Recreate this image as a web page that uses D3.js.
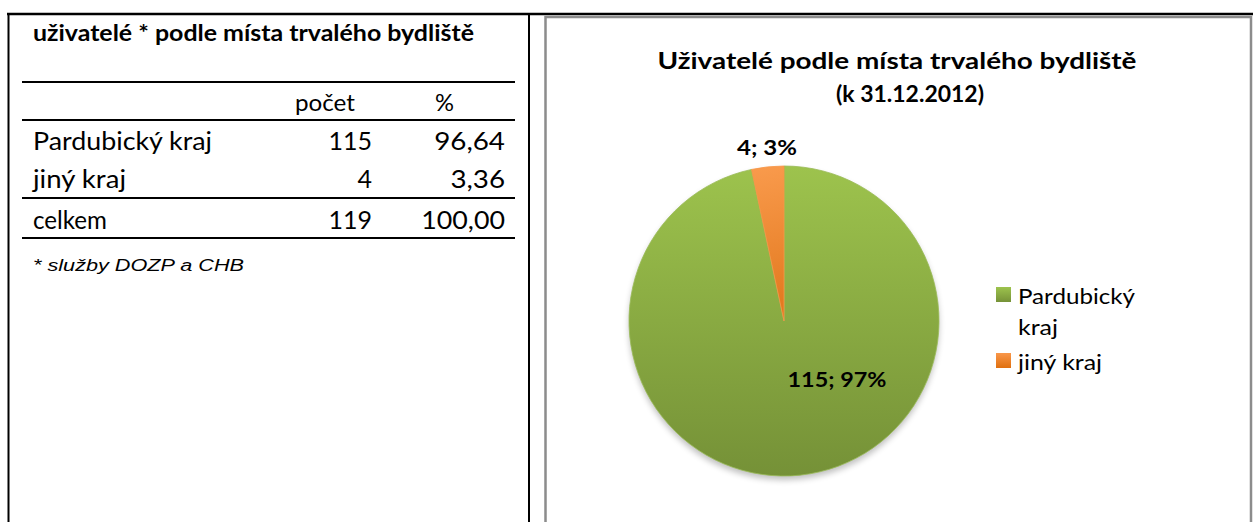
<!DOCTYPE html>
<html><head><meta charset="utf-8">
<script src="https://cdn.jsdelivr.net/npm/d3@7"></script>
<style>body{margin:0;background:#fff;}svg{display:block;}</style>
</head><body>
<svg id="c" width="1253" height="522"></svg>
<script>
const categories = ["Pardubický kraj", "jiný kraj"];
const counts = [115, 4];
const totalLabel = "celkem";
const tableTitle = "uživatelé * podle místa trvalého bydliště";
const tableHeaders = ["počet", "%"];
const footnote = "* služby DOZP a CHB";
const chartTitle = ["Uživatelé podle místa trvalého bydliště", "(k 31.12.2012)"];
const legendLines = [["Pardubický", "kraj"], ["jiný kraj"]];

const total = d3.sum(counts);
const fmtPct = v => d3.format(".2f")(v).replace(".", ",");
const svg = d3.select("#c");
const F = "Lato, 'Open Sans', sans-serif";

function txt(x, y, s, o = {}) {
  const t = svg.append("text").attr("x", x).attr("y", y).text(s)
    .attr("font-family", o.family || F)
    .attr("font-size", o.size || 22)
    .attr("font-weight", o.weight || "normal")
    .attr("font-style", o.style || "normal")
    .attr("fill", o.fill || "#000")
    .attr("text-anchor", o.anchor || "start");
  if (o.w) t.attr("textLength", o.w).attr("lengthAdjust", "spacingAndGlyphs");
  return t;
}
function hline(x1, x2, y, w, c) {
  svg.append("line").attr("x1", x1).attr("x2", x2).attr("y1", y).attr("y2", y)
    .attr("stroke", c || "#000").attr("stroke-width", w);
}
function vline(x, y1, y2, w, c) {
  svg.append("line").attr("x1", x).attr("x2", x).attr("y1", y1).attr("y2", y2)
    .attr("stroke", c || "#000").attr("stroke-width", w);
}
const cw = {"1": 13.7, ",": 6.5, ".": 6.5};
function numW(s) { return d3.sum(s.split(""), ch => cw[ch] || 17); }
const labelW = {"Pardubický kraj": 179, "jiný kraj": 93, "celkem": 74};

// frame
hline(7, 1253, 14, 2.5);
vline(8.5, 13, 522, 2);
vline(529, 13, 522, 2);
svg.append("path").attr("d", "M545.5,522 V17 H1251 V522")
  .attr("fill", "none").attr("stroke", "#8c8c8c").attr("stroke-width", 2.5);

// ---- table ----
txt(33, 41, tableTitle, {weight: "bold", size: 22, w: 441});
hline(22, 515, 82, 2);
txt(295, 111, tableHeaders[0], {size: 23, w: 60});
txt(435, 111, tableHeaders[1], {size: 23, w: 19});
hline(22, 515, 120, 2);
const rowY = [150, 188];
categories.forEach((c, i) => {
  txt(33, rowY[i], c, {size: 25, w: labelW[c]});
  const n = String(counts[i]), p = fmtPct(counts[i] / total * 100);
  txt(372, rowY[i], n, {size: 25, anchor: "end"});
  txt(505, rowY[i], p, {size: 25, anchor: "end", w: numW(p) * 0.95});
});
hline(22, 515, 198, 2);
txt(33, 229, totalLabel, {size: 25, w: labelW[totalLabel]});
txt(372, 229, String(total), {size: 25, anchor: "end"});
txt(505, 229, fmtPct(100), {size: 25, anchor: "end", w: numW(fmtPct(100)) * 0.95});
hline(22, 515, 238, 2);
txt(33, 271, footnote, {size: 16, style: "italic", family: "'Liberation Sans', Arial, sans-serif", w: 211});

// ---- chart ----
txt(897, 69, chartTitle[0], {weight: "bold", size: 23, anchor: "middle", w: 479});
txt(910, 102, chartTitle[1], {weight: "bold", size: 23, anchor: "middle", w: 148});

const defs = svg.append("defs");
const grads = [["gG", "#9dc34d", "#769238"], ["gO", "#f9974a", "#e0700f"]];
grads.forEach(([id, a, b]) => {
  const g = defs.append("linearGradient").attr("id", id).attr("x1", 0).attr("y1", 0).attr("x2", 0).attr("y2", 1);
  g.append("stop").attr("offset", "0%").attr("stop-color", a);
  g.append("stop").attr("offset", "100%").attr("stop-color", b);
});
const pieGrad = defs.append("linearGradient").attr("id", "pg").attr("gradientUnits", "userSpaceOnUse")
  .attr("x1", 0).attr("y1", -155).attr("x2", 0).attr("y2", 155);
pieGrad.append("stop").attr("offset", "0%").attr("stop-color", "#9dc34d");
pieGrad.append("stop").attr("offset", "100%").attr("stop-color", "#759137");
const orGrad = defs.append("linearGradient").attr("id", "og").attr("gradientUnits", "userSpaceOnUse")
  .attr("x1", -20).attr("y1", -155).attr("x2", 10).attr("y2", 0);
orGrad.append("stop").attr("offset", "0%").attr("stop-color", "#f99a4c");
orGrad.append("stop").attr("offset", "100%").attr("stop-color", "#e0761a");
const flt = defs.append("filter").attr("id", "sh").attr("x", "-20%").attr("y", "-20%").attr("width", "140%").attr("height", "140%");
flt.append("feGaussianBlur").attr("stdDeviation", 3);

const cx = 784, cy = 321, R = 155;
const g = svg.append("g").attr("transform", `translate(${cx},${cy})`);
g.append("circle").attr("cx", 0).attr("cy", 4).attr("r", R).attr("fill", "#000").attr("opacity", 0.25).attr("filter", "url(#sh)");
const pie = d3.pie().sort(null).value(d => d)(counts);
const arc = d3.arc().innerRadius(0).outerRadius(R);
const fills = ["url(#pg)", "url(#og)"];
g.selectAll("path.s").data(pie).join("path").attr("class", "s")
  .attr("d", arc).attr("fill", (d, i) => fills[i])
  .attr("stroke", (d, i) => i === 0 ? "#9bbb59" : "#f79646").attr("stroke-width", 0.8);

// labels
const labelPos = [[837, 387], [767, 155]];
pie.forEach((d, i) => {
  const s = `${counts[i]}; ${Math.round(counts[i] / total * 100)}%`;
  txt(labelPos[i][0], labelPos[i][1], s, {weight: "bold", size: 21, anchor: "middle", w: i === 0 ? 99 : 60});
});

// legend
const legY = [287, 353];
const legFill = ["url(#gG)", "url(#gO)"];
legendLines.forEach((lines, i) => {
  svg.append("rect").attr("x", 996).attr("y", legY[i]).attr("width", 15).attr("height", 15).attr("fill", legFill[i]);
  lines.forEach((l, j) => {
    txt(1018, legY[i] + 17 + j * 31, l, {size: 21, w: l === "Pardubický" ? 117 : (l === "kraj" ? 40 : 84)});
  });
});
</script>
</body></html>
